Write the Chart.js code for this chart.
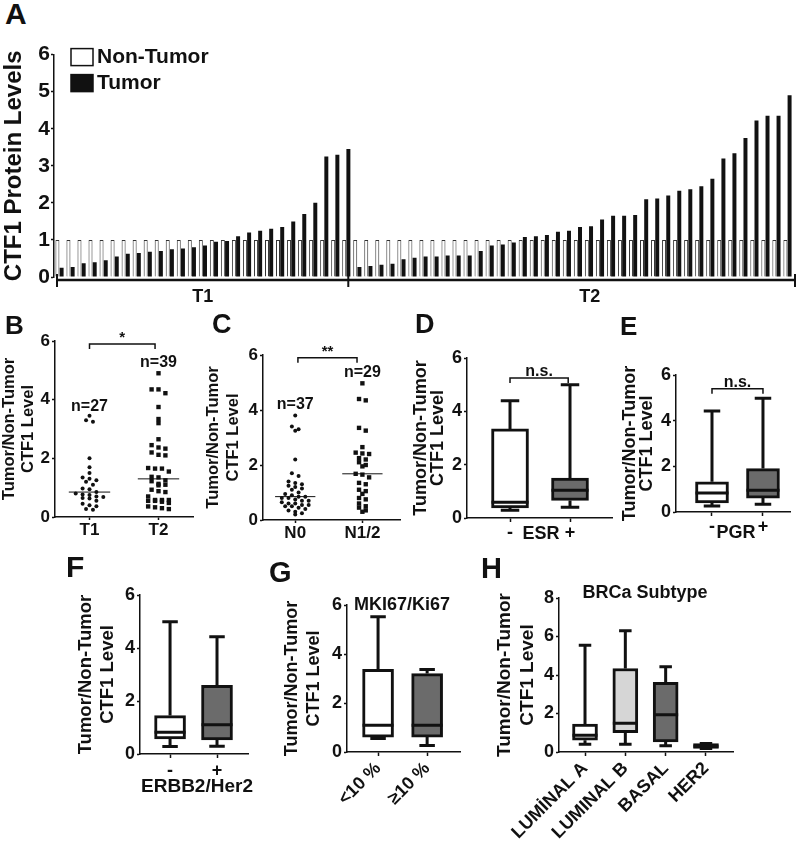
<!DOCTYPE html>
<html>
<head>
<meta charset="utf-8">
<title>CTF1 protein levels</title>
<script src="https://cdn.jsdelivr.net/npm/chart.js@4.4.1/dist/chart.umd.min.js"></script>
<style>
  body { margin: 0; width: 800px; height: 847px; position: relative; overflow: hidden; background: #fff;
         font-family: Arial, "Liberation Sans", Helvetica, sans-serif; }
  canvas { position: absolute; }
  .pnl { position: absolute; font-weight: bold; color: #111; line-height: 1; }
  .lbl { position: absolute; font-weight: bold; color: #111; line-height: 1; white-space: nowrap;
         transform: translate(-50%, -50%); }
</style>
</head>
<body>
<canvas id="chA"></canvas>
<canvas id="chB"></canvas>
<canvas id="chC"></canvas>
<canvas id="chD"></canvas>
<canvas id="chE"></canvas>
<canvas id="chF"></canvas>
<canvas id="chG"></canvas>
<canvas id="chH"></canvas>

<div class="pnl" style="left:5px;top:-1px;font-size:30px">A</div>
<div class="pnl" style="left:5px;top:312px;font-size:26px">B</div>
<div class="pnl" style="left:212px;top:311px;font-size:27px">C</div>
<div class="pnl" style="left:415px;top:311px;font-size:27px">D</div>
<div class="pnl" style="left:620px;top:313px;font-size:26px">E</div>
<div class="pnl" style="left:66px;top:552px;font-size:30px">F</div>
<div class="pnl" style="left:269px;top:558px;font-size:29px">G</div>
<div class="pnl" style="left:481px;top:554px;font-size:29px">H</div>

<div class="lbl" style="left:541px;top:533px;font-size:18px">ESR</div>
<div class="lbl" style="left:736px;top:532px;font-size:18px">PGR</div>
<div class="lbl" style="left:197px;top:785px;font-size:19px">ERBB2/Her2</div>
<div class="lbl" style="left:402px;top:604px;font-size:18px">MKI67/Ki67</div>
<div class="lbl" style="left:645px;top:592px;font-size:18px">BRCa Subtype</div>

<script>
const INK = '#111';
const FONT = 'Arial, "Liberation Sans", Helvetica, sans-serif';

// A: paired bars, non-tumor set to 1
const t1Tumor = [0.25, 0.27, 0.37, 0.4, 0.45, 0.55, 0.63, 0.65, 0.68, 0.7, 0.75, 0.77, 0.8, 0.85,
  0.95, 0.97, 1.1, 1.2, 1.25, 1.3, 1.35, 1.5, 1.7, 2.0, 3.25, 3.3, 3.45];
const t2Tumor = [0.27, 0.3, 0.33, 0.36, 0.48, 0.52, 0.55, 0.55, 0.58, 0.58, 0.58, 0.7, 0.85, 0.88,
  0.93, 1.08, 1.1, 1.13, 1.22, 1.25, 1.35, 1.37, 1.55, 1.65, 1.65, 1.67, 2.1, 2.12, 2.2, 2.33,
  2.37, 2.45, 2.65, 3.2, 3.34, 3.75, 4.22, 4.35, 4.35, 4.9];
const t1NonTumor = [1, 1, 1, 1, 1, 1, 1, 1, 1, 1, 1, 1, 1, 1, 1, 1, 1, 1, 1, 1, 1, 1, 1, 1, 1, 1, 1];
const t2NonTumor = [1, 1, 1, 1, 1, 1, 1, 1, 1, 1, 1, 1, 1, 1, 1, 1, 1, 1, 1, 1,
  1, 1, 1, 1, 1, 1, 1, 1, 1, 1, 1, 1, 1, 1, 1, 1, 1, 1, 1, 1];
const stageNames = ['T1', 'T2'];
const stageCountText = ['n=27', 'n=39'];

// C: node status ratios
const nodeNames = ['N0', 'N1/2'];
const n0Ratio = [3.8, 3.4, 3.3, 3.25, 2.2, 1.7, 1.6, 1.4, 1.35, 1.3, 1.25, 1.2, 1.15, 1.1, 1.0,
  0.95, 0.9, 0.85, 0.85, 0.8, 0.8, 0.75, 0.7, 0.7, 0.65, 0.6, 0.6, 0.55, 0.55, 0.5, 0.5, 0.45,
  0.4, 0.35, 0.3, 0.25, 0.2];
const n12Ratio = [4.97, 4.4, 4.35, 3.35, 3.25, 2.65, 2.45, 2.42, 2.4, 2.25, 2.2, 2.1, 2.0, 1.95,
  1.68, 1.65, 1.55, 1.35, 1.3, 1.1, 1.05, 0.95, 0.8, 0.75, 0.6, 0.5, 0.45, 0.35, 0.3];
const nodeCountText = ['n=37', 'n=29'];

// D-H boxes: [min, q1, median, q3, max]
const esrGroups = ['-', '+'];
const esrBoxes = [[0.29, 0.38, 0.59, 3.34, 4.4], [0.4, 0.66, 1.04, 1.5, 5.0]];
const pgrGroups = ['-', '+'];
const pgrBoxes = [[0.26, 0.4, 0.83, 1.32, 4.42], [0.34, 0.61, 0.95, 1.9, 4.98]];
const her2Groups = ['-', '+'];
const her2Boxes = [[0.28, 0.57, 0.82, 1.45, 4.99], [0.29, 0.53, 1.1, 2.59, 4.42]];
const ki67Groups = ['<10 %', '≥10 %'];
const ki67Boxes = [[0.55, 0.61, 1.09, 3.37, 5.52], [0.27, 0.61, 1.09, 3.2, 3.37]];
const subtypeGroups = ['LUMİNAL A', 'LUMINAL B', 'BASAL', 'HER2'];
const subtypeBoxes = [[0.4, 0.61, 0.87, 1.45, 5.55], [0.4, 1.0, 1.49, 4.34, 6.3],
  [0.32, 0.53, 1.93, 3.62, 4.43], [0.18, 0.18, 0.3, 0.44, 0.44]];

const ratioTitle = ['Tumor/Non-Tumor', 'CTF1 Level'];
const WHITE = '#ffffff', GREY = '#6b6b6b', LIGHT = '#d6d6d6';

Chart.defaults.font.family = FONT;
Chart.defaults.color = INK;
Chart.defaults.animation = false;
Chart.defaults.plugins.legend.display = false;
Chart.defaults.plugins.tooltip.enabled = false;

// put canvas so that the plot area lands on the given page box
function place(id, area, yW, xH, pad) {
  const c = document.getElementById(id);
  const left = area.l - yW - pad.left, top = area.t - pad.top;
  c.width = area.r + pad.right - left;
  c.height = area.b + xH + pad.bottom - top;
  c.style.left = left + 'px';
  c.style.top = top + 'px';
  return c;
}

function median(v) {
  const s = v.slice().sort((a, b) => a - b), m = s.length >> 1;
  return s.length % 2 ? s[m] : (s[m - 1] + s[m]) / 2;
}

// simple beeswarm: rows of close values spread sideways
function swarm(values, center, rowH, step) {
  const rows = [];
  values.slice().sort((a, b) => b - a).forEach(v => {
    const row = rows[rows.length - 1];
    if (row && row[0] - v < rowH) row.push(v); else rows.push([v]);
  });
  const pts = [];
  rows.forEach(row => row.forEach((v, j) => pts.push({x: center + (j - (row.length - 1) / 2) * step, y: v})));
  return pts;
}

function yAxis(max, step, title, size, lh, tickSize, width) {
  return {
    min: 0, max: max,
    ticks: {stepSize: step, color: INK, padding: 2, font: {weight: 'bold', size: tickSize}},
    grid: {drawOnChartArea: false, drawTicks: true, tickLength: 3, tickColor: INK, tickWidth: 1.5},
    border: {display: true, color: INK, width: 1.5},
    title: {display: true, text: title, color: INK, padding: 0, font: {weight: 'bold', size: size, lineHeight: lh}},
    afterFit(s) { s.width = width; }
  };
}

function xAxis(labels, min, max, o) {
  return {
    type: 'linear', min: min, max: max, offset: false,
    afterBuildTicks(s) { s.ticks = labels.map((_, i) => ({value: i + 1})); },
    ticks: {autoSkip: false, color: INK, padding: o.pad, maxRotation: o.rot, minRotation: o.rot,
      font: {weight: 'bold', size: o.size}, callback: (v, i) => labels[i]},
    grid: {drawOnChartArea: false, offset: false, tickLength: o.tick, tickColor: INK, tickWidth: 1.5},
    border: {display: true, color: INK, width: 1.5},
    afterFit(s) { s.height = o.height; }
  };
}

// whiskers, medians, brackets, n= notes
const marks = {
  id: 'marks',
  afterDatasetsDraw(chart, args, o) {
    const {ctx, scales: {x, y}} = chart;
    ctx.save();
    ctx.strokeStyle = INK;
    ctx.fillStyle = INK;
    if (o.boxes) {
      ctx.lineWidth = 3;
      chart.getDatasetMeta(0).data.forEach((bar, i) => {
        const [lo, q1, med, q3, hi] = o.boxes[i].map(v => y.getPixelForValue(v));
        const h = bar.width / 2, c = h * 0.5;
        ctx.beginPath();
        ctx.moveTo(bar.x, q3); ctx.lineTo(bar.x, hi);
        ctx.moveTo(bar.x - c, hi); ctx.lineTo(bar.x + c, hi);
        ctx.moveTo(bar.x, q1); ctx.lineTo(bar.x, lo);
        ctx.moveTo(bar.x - c, lo); ctx.lineTo(bar.x + c, lo);
        ctx.moveTo(bar.x - h, med); ctx.lineTo(bar.x + h, med);
        ctx.stroke();
      });
    }
    if (o.medianHalf) {
      ctx.lineWidth = 1;
      chart.data.datasets.forEach((ds, i) => {
        const m = y.getPixelForValue(median(ds.data.map(p => p.y)));
        ctx.beginPath();
        ctx.moveTo(x.getPixelForValue(i + 1 - o.medianHalf), m);
        ctx.lineTo(x.getPixelForValue(i + 1 + o.medianHalf), m);
        ctx.stroke();
      });
    }
    if (o.bracket) {
      const b = o.bracket;
      const by = y.getPixelForValue(b.y), x1 = x.getPixelForValue(b.from), x2 = x.getPixelForValue(b.to);
      ctx.lineWidth = 1.5;
      ctx.beginPath();
      ctx.moveTo(x1, by + 5); ctx.lineTo(x1, by); ctx.lineTo(x2, by); ctx.lineTo(x2, by + 5);
      ctx.stroke();
      ctx.font = 'bold ' + b.size + 'px ' + FONT;
      ctx.textAlign = 'center';
      ctx.textBaseline = 'alphabetic';
      ctx.fillText(b.text, (x1 + x2) / 2, by - 2);
    }
    if (o.notes) {
      ctx.font = 'bold 16px ' + FONT;
      ctx.textAlign = 'center';
      ctx.textBaseline = 'middle';
      o.notes.forEach(n => ctx.fillText(n.text, x.getPixelForValue(n.x), y.getPixelForValue(n.y)));
    }
    ctx.restore();
  }
};

// A: legend + T1/T2 bracket under the bars
const stages = {
  id: 'stages',
  afterDraw(chart, args, o) {
    const {ctx, chartArea: a, scales: {x}} = chart;
    ctx.save();
    chart.data.datasets.forEach((ds, i) => {
      const bx = a.left + 17, by = a.top - 6 + i * 26;
      ctx.fillStyle = ds.backgroundColor;
      ctx.fillRect(bx, by, 22, 17);
      ctx.lineWidth = 1.5;
      ctx.strokeStyle = INK;
      ctx.strokeRect(bx, by, 22, 17);
      ctx.fillStyle = INK;
      ctx.font = 'bold 21px ' + FONT;
      ctx.textAlign = 'left';
      ctx.textBaseline = 'middle';
      ctx.fillText(ds.label, bx + 26, by + 9);
    });
    const y = a.bottom + 3;
    const ends = [a.left + 3];
    let n = 0;
    o.counts.forEach((k, i) => {
      n += k;
      ends.push(i === o.counts.length - 1 ? a.right + 2 : x.getPixelForValue(n - 1) + 2);
    });
    ctx.strokeStyle = INK;
    ctx.lineWidth = 2.5;
    ctx.beginPath();
    ctx.moveTo(ends[0], y); ctx.lineTo(ends[ends.length - 1], y);
    ctx.stroke();
    ctx.lineWidth = 2;
    ctx.beginPath();
    ends.forEach(e => { ctx.moveTo(e, y - 6); ctx.lineTo(e, y + 7); });
    ctx.stroke();
    ctx.fillStyle = INK;
    ctx.font = 'bold 18px ' + FONT;
    ctx.textAlign = 'center';
    ctx.textBaseline = 'middle';
    o.names.forEach((t, i) => ctx.fillText(t, (ends[i] + ends[i + 1]) / 2 + i * 18, y + 17));
    ctx.restore();
  }
};

// ---- A
(function () {
  const pad = {left: 0, top: 12, right: 7, bottom: 34};
  const area = {l: 54, t: 53, r: 793, b: 277};
  const c = place('chA', area, 53, 0, pad);
  const tumor = t1Tumor.concat(t2Tumor);
  new Chart(c, {
    type: 'bar',
    data: {
      labels: tumor.map((_, i) => i),
      datasets: [
        {label: 'Non-Tumor', data: t1NonTumor.concat(t2NonTumor), backgroundColor: WHITE,
          borderColor: '#333', borderWidth: 1},
        {label: 'Tumor', data: tumor, backgroundColor: INK}
      ]
    },
    options: {
      responsive: false,
      layout: {padding: pad},
      datasets: {bar: {categoryPercentage: 0.76, barPercentage: 0.95}},
      scales: {
        x: {display: false},
        y: {
          min: 0, max: 6,
          ticks: {stepSize: 1, color: INK, padding: 1, font: {weight: 'bold', size: 21}},
          grid: {drawOnChartArea: false, tickLength: 3, tickColor: INK, tickWidth: 1.5},
          border: {display: true, color: INK, width: 1.5},
          title: {display: true, text: 'CTF1 Protein Levels', color: INK, padding: 0,
            font: {weight: 'bold', size: 24, lineHeight: 1.1}},
          afterFit(s) { s.width = 53; }
        }
      },
      plugins: {stages: {counts: [t1Tumor.length, t2Tumor.length], names: stageNames}}
    },
    plugins: [stages]
  });
})();

// ---- B, C dot plots
function dotPanel(id, area, yW, groups, series, cfg) {
  const pad = {left: 0, top: 14, right: 6, bottom: 6};
  const c = place(id, area, yW, 24, pad);
  new Chart(c, {
    type: 'scatter',
    data: {
      datasets: series.map((vals, i) => ({
        data: swarm(vals, i + 1, cfg.rowH, cfg.step),
        pointStyle: i === 0 ? 'circle' : 'rect',
        pointRadius: i === 0 ? 2 : 3.1,
        backgroundColor: INK, borderWidth: 0
      }))
    },
    options: {
      responsive: false,
      layout: {padding: pad},
      scales: {
        x: xAxis(groups, cfg.xMin, cfg.xMax, {pad: 0, rot: 0, size: 17, tick: 3, height: 24}),
        y: yAxis(6, 2, ratioTitle, 16.5, cfg.lh, 17, yW)
      },
      plugins: {marks: {medianHalf: 0.3, bracket: cfg.bracket, notes: cfg.notes}}
    },
    plugins: [marks]
  });
}

dotPanel('chB', {l: 55, t: 341, r: 193, b: 517}, 55, stageNames, [t1Tumor, t2Tumor], {
  rowH: 0.13, step: 0.1, xMin: 0.5, xMax: 2.5, lh: 1.15,
  bracket: {from: 1, to: 1.95, y: 5.9, text: '*', size: 15},
  notes: [{x: 1, y: 3.75, text: stageCountText[0]}, {x: 2, y: 5.28, text: stageCountText[1]}]
});
dotPanel('chC', {l: 263, t: 355, r: 400, b: 520}, 59, nodeNames, [n0Ratio, n12Ratio], {
  rowH: 0.14, step: 0.1, xMin: 0.52, xMax: 2.56, lh: 1.2,
  bracket: {from: 1.04, to: 1.92, y: 5.9, text: '**', size: 15},
  notes: [{x: 1, y: 4.18, text: nodeCountText[0]}, {x: 2, y: 5.35, text: nodeCountText[1]}]
});

// ---- D-H box plots
function boxPanel(id, area, yW, groups, boxes, fills, cfg) {
  const pad = {left: 0, top: 14, right: cfg.padR, bottom: cfg.padB};
  const c = place(id, area, yW, cfg.xt.height, pad);
  new Chart(c, {
    type: 'bar',
    data: {
      datasets: [{
        data: boxes.map((b, i) => ({x: i + 1, y: [b[1], b[3]]})),
        backgroundColor: fills, borderColor: INK, borderWidth: 3, borderSkipped: false,
        barThickness: cfg.bw, grouped: false
      }]
    },
    options: {
      responsive: false,
      layout: {padding: pad},
      scales: {
        x: xAxis(groups, cfg.xMin, cfg.xMax, cfg.xt),
        y: yAxis(cfg.yMax, 2, ratioTitle, cfg.tf, cfg.lh, 18, yW)
      },
      plugins: {marks: {boxes: boxes, bracket: cfg.bracket}}
    },
    plugins: [marks]
  });
}

const flatTicks = {pad: 0, rot: 0, size: 18, tick: 4, height: 24};

boxPanel('chD', {l: 467, t: 358, r: 612, b: 518}, 55, esrGroups, esrBoxes, [WHITE, GREY], {
  padR: 4, padB: 6, bw: 37, xMin: 0.283, xMax: 2.7, yMax: 6, tf: 18, lh: 0.95, xt: flatTicks,
  bracket: {from: 1, to: 1.97, y: 5.25, text: 'n.s.', size: 16}
});
boxPanel('chE', {l: 676, t: 375, r: 790, b: 512}, 55, pgrGroups, pgrBoxes, [WHITE, GREY], {
  padR: 8, padB: 6, bw: 33, xMin: 0.294, xMax: 2.53, yMax: 6, tf: 18, lh: 0.95, xt: flatTicks,
  bracket: {from: 1, to: 2, y: 5.4, text: 'n.s.', size: 16}
});
boxPanel('chF', {l: 140, t: 595, r: 248, b: 754}, 65, her2Groups, her2Boxes, [WHITE, GREY], {
  padR: 4, padB: 6, bw: 31, xMin: 0.36, xMax: 2.66, yMax: 6, tf: 18.5, lh: 1.18,
  xt: {pad: 2, rot: 0, size: 18, tick: 4, height: 24}
});
boxPanel('chG', {l: 347, t: 605, r: 460, b: 752}, 66, ki67Groups, ki67Boxes, [WHITE, GREY], {
  padR: 4, padB: 4, bw: 31, xMin: 0.367, xMax: 2.67, yMax: 6, tf: 18, lh: 1.22,
  xt: {pad: 2, rot: 45, size: 18, tick: 4, height: 60}
});
boxPanel('chH', {l: 559, t: 598, r: 733, b: 752}, 66, subtypeGroups, subtypeBoxes, [WHITE, LIGHT, GREY, INK], {
  padR: 8, padB: 3, bw: 25, xMin: 0.355, xMax: 4.67, yMax: 8, tf: 19, lh: 1.21,
  xt: {pad: 2, rot: 45, size: 18, tick: 4, height: 92}
});
</script>
</body>
</html>
